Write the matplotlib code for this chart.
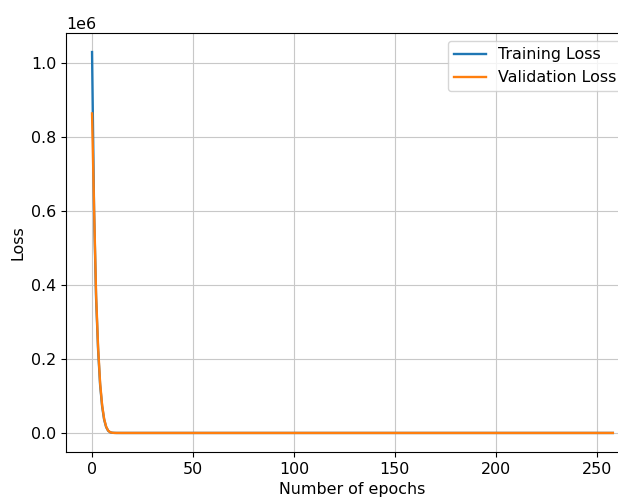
import numpy as np
import matplotlib.pyplot as plt

plt.rcParams['font.size'] = 11.4

# loss per epoch: steep drop over the first few epochs, then flat near zero
train_head = [1.03e6, 0.60e6, 0.365e6, 0.225e6, 0.13e6, 0.072e6, 0.036e6,
              0.016e6, 0.006e6, 0.002e6, 0.0008e6, 0.0004e6]
val_head = [0.864e6, 0.61e6, 0.375e6, 0.232e6, 0.135e6, 0.075e6, 0.038e6,
            0.017e6, 0.0065e6, 0.0022e6, 0.0009e6, 0.0004e6]
tail_value = 300.0
n_epochs = 259

train_loss = train_head + [tail_value] * (n_epochs - len(train_head))
val_loss = val_head + [tail_value] * (n_epochs - len(val_head))
epochs = np.arange(n_epochs)

fig = plt.figure(figsize=(6.18, 4.99), dpi=100)
# axes run a little past the right edge of the canvas
ax = fig.add_axes([0.1068, 0.0942, 0.927, 0.8397])

ax.plot(epochs, train_loss, label='Training Loss', lw=1.7)
ax.plot(epochs, val_loss, label='Validation Loss', lw=1.7)

ax.set_xlabel('Number of epochs')
ax.set_ylabel('Loss')
ax.grid(True, color='#c8c8c8')
ax.legend(loc='upper right', bbox_to_anchor=(0.986, 1.0))

fig.savefig('out.png', dpi=100)
